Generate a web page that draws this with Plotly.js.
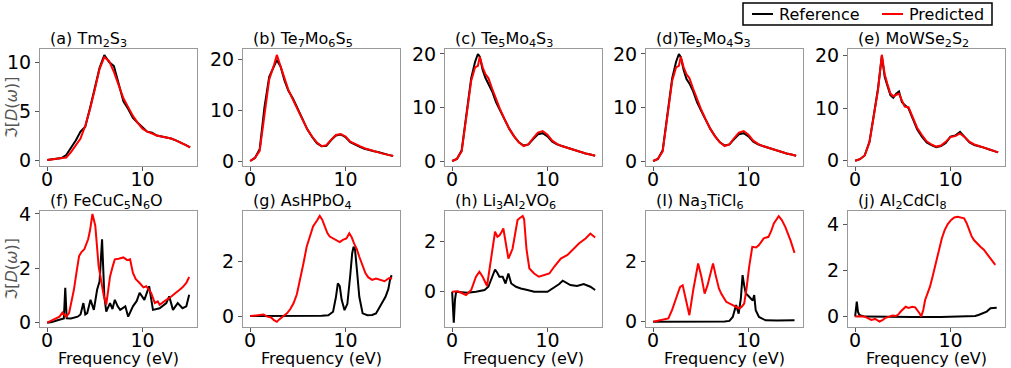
<!DOCTYPE html>
<html>
<head>
<meta charset="utf-8">
<script src="https://cdn.plot.ly/plotly-3.0.1.min.js"></script>
<style>
  html, body { margin: 0; padding: 0; background: #fff; }
  #chart { width: 1011px; height: 368px; }
</style>
</head>
<body>
<div id="chart"></div>
<script>
// (a) Tm2S3
const xA = [0,0.5,1,1.5,2,2.5,3,3.5,4,4.5,5,5.5,6,6.5,7,7.5,8,8.5,9,9.5,10,10.5,11,11.5,12,12.5,13,13.5,14,14.5,15];
const refA = [0,0.05,0.1,0.2,0.5,1.2,2.0,2.9,3.4,5.3,7.4,9.4,10.7,10.0,9.6,7.8,6.0,5.2,4.3,3.8,3.3,2.9,2.8,2.5,2.4,2.3,2.2,2.0,1.8,1.55,1.3];
const predA = [0,0.05,0.1,0.15,0.25,0.8,1.5,2.2,3.5,5.2,7.2,9.3,10.5,10.1,9.0,7.6,6.3,5.4,4.5,3.8,3.2,2.9,2.7,2.5,2.4,2.3,2.2,2.0,1.8,1.55,1.3];

// (b) Te7Mo6S5
const xB = [0,0.5,1,1.5,2,2.5,2.8,3.2,3.6,4,4.5,5,5.5,6,6.5,7,7.5,8,8.5,9,9.5,10,10.5,11,11.5,12,12.5,13,13.5,14,14.5,15];
const refB = [0,0.6,2.3,10.5,16.5,18.8,19.8,18.5,15.8,13.8,12.2,10.2,8.2,6.2,4.7,3.5,2.9,3.0,4.1,5.0,5.2,4.7,3.7,3.2,2.8,2.4,2.1,1.9,1.7,1.4,1.2,1.0];
const predB = [0,0.6,2.0,9.5,16,18.8,20.8,18.5,16,14,12,10,8,6.2,4.8,3.6,2.9,3.1,4.2,5.1,5.3,4.8,3.8,3.3,2.9,2.5,2.2,1.9,1.7,1.4,1.2,1.0];

// (c) Te5Mo4S3
const xC = [0,0.5,1,1.5,2,2.4,2.7,2.9,3.2,3.5,3.8,4.2,4.6,5,5.5,6,6.5,7,7.5,8,8.5,9,9.5,10,10.5,11,11.5,12,12.5,13,13.5,14,14.5,15];
const refC = [0,0.4,2.0,8.5,15.5,18.5,20.0,19.5,17.0,15.5,14.5,13.0,11.0,9.5,7.6,6.0,4.6,3.5,2.9,3.1,4.1,5.0,5.2,4.6,3.6,3.1,2.8,2.5,2.2,1.9,1.7,1.4,1.2,1.0];
const predC = [0,0.4,1.8,8.0,15.0,17.5,17.8,19.5,17.5,16.2,15.5,13.5,11.5,9.8,7.8,6.0,4.6,3.5,2.8,3.1,4.3,5.3,5.6,4.9,3.8,3.2,2.8,2.5,2.2,1.9,1.7,1.4,1.2,1.0];

// (d) Te5Mo4S3
const xD = [0,0.5,1,1.5,2,2.4,2.7,2.9,3.2,3.5,3.8,4.2,4.6,5,5.5,6,6.5,7,7.5,8,8.5,9,9.5,10,10.5,11,11.5,12,12.5,13,13.5,14,14.5,15];
const refD = [0,0.4,2.0,8.5,15.5,18.5,20.0,19.4,17.0,15.3,14.5,13.0,11.0,9.5,7.6,6.0,4.6,3.5,2.9,3.1,4.1,5.0,5.2,4.6,3.6,3.1,2.8,2.5,2.2,1.9,1.7,1.4,1.2,1.0];
const predD = [0,0.4,1.8,8.0,15.0,17.5,17.8,19.5,17.5,16.2,15.5,13.5,11.5,9.8,7.8,6.0,4.6,3.5,2.8,3.1,4.3,5.3,5.6,4.9,3.8,3.2,2.8,2.5,2.2,1.9,1.7,1.4,1.2,1.0];

// (e) MoWSe2S2
const xE = [0,0.5,1,1.5,2,2.4,2.8,3.1,3.4,3.7,4.0,4.3,4.6,4.9,5.2,5.6,6,6.5,7,7.5,8,8.5,9,9.5,10,10.5,11,11.5,12,12.5,13,13.5,14,14.5,15];
const refE = [0,0.3,1.0,3.6,9.2,13.8,20.0,16.0,14.2,12.5,12.0,12.8,13.2,11.2,10.6,10.0,8.2,6.0,4.6,3.5,3.0,2.6,2.8,3.4,4.6,4.8,5.5,4.4,3.5,3.0,2.8,2.5,2.2,1.9,1.6];
const predE = [0,0.3,1.0,3.5,9.0,13.5,20.2,16.5,14.5,12.8,12.3,12.5,12.8,11.5,10.3,10.2,8.4,6.3,4.9,3.7,3.1,2.7,2.9,3.6,4.5,4.7,5.2,4.5,3.6,3.1,2.8,2.5,2.2,1.9,1.6];

// (f) FeCuC5N6O
const xRefF = [0,0.5,1,1.5,1.75,1.9,2.05,2.5,3.2,3.5,3.8,4.0,4.2,4.55,4.9,5.24,5.5,5.76,6.0,6.2,6.6,6.85,7.1,7.4,7.66,8.2,8.5,9.0,9.4,9.7,10.2,10.7,11.1,11.8,12.5,12.8,13.2,13.7,14.2,14.6,14.9];
const refF = [0,0.02,0.08,0.12,0.15,1.28,0.16,0.15,0.22,0.3,0.72,0.3,0.35,0.84,0.47,1.21,1.52,3.07,0.97,0.41,0.72,0.5,0.84,0.6,0.47,0.6,0.22,0.6,0.8,1.1,0.84,1.34,0.47,0.53,0.72,0.97,0.47,0.72,0.53,0.6,1.03];
const xPredF = [0,0.5,1,1.3,1.6,2,2.3,2.8,3.1,3.35,3.6,3.9,4.3,4.5,4.75,5.05,5.4,5.7,5.95,6.2,6.4,6.6,6.9,7.1,7.5,8,8.4,8.7,9,9.3,9.7,10.1,10.4,10.9,11.3,11.6,11.8,12.1,12.5,12.8,13.2,13.5,13.9,14.2,14.6,14.9];
const predF = [0,0.08,0.15,0.22,0.37,0.22,0.35,1.2,1.9,2.45,2.6,2.7,3.07,3.4,4.0,3.57,2.08,1.4,0.97,0.66,1.1,1.7,2.1,2.33,2.35,2.4,2.3,2.33,1.83,1.6,1.46,1.3,1.34,1.1,0.72,0.78,0.66,0.75,0.84,0.9,1.03,1.1,1.21,1.3,1.46,1.68];

// (g) AsHPbO4
const xRefG = [0,2,4,6,7.5,8.2,8.7,9.0,9.2,9.4,9.6,9.9,10.2,10.5,10.7,10.85,11.0,11.2,11.45,11.8,12.3,12.8,13.2,13.5,13.9,14.2,14.5,14.7,14.85];
const refG = [0,0,0,0,0.01,0.03,0.16,0.7,1.2,1.1,0.6,0.22,0.45,1.5,2.3,2.55,2.45,1.7,0.71,0.1,0.03,0.04,0.1,0.28,0.5,0.71,1.0,1.39,1.5];
const xPredG = [0,0.5,0.93,1.4,1.8,2.2,2.5,2.8,3.05,3.3,3.6,3.86,4.2,4.55,4.9,5.24,5.6,5.93,6.3,6.6,7.0,7.3,7.55,7.83,8.1,8.35,8.7,9.03,9.4,9.72,10.1,10.4,10.65,10.9,11.2,11.45,11.8,12.1,12.4,12.8,13.2,13.7,14.1,14.55,14.9];
const predG = [0,0.02,0.04,0.06,-0.02,-0.05,-0.15,-0.21,-0.12,-0.05,0.02,0.1,0.25,0.47,0.8,1.33,1.95,2.55,2.95,3.29,3.5,3.68,3.55,3.29,3.05,2.92,2.85,2.8,2.72,2.8,2.85,3.04,2.9,2.67,2.45,2.18,1.85,1.57,1.42,1.33,1.38,1.33,1.28,1.39,1.38];

// (h) Li3Al2VO6
const xRefH = [0,0.1,0.17,0.3,0.42,1.0,1.6,2.5,3.4,3.8,4.1,4.3,4.5,4.75,4.95,5.3,5.6,5.9,6.2,6.7,7.2,7.9,8.6,10,10.4,10.7,11.2,11.6,12.0,12.4,13.1,13.8,14.5,15];
const refH = [0,-0.5,-1.24,-0.3,0,-0.02,-0.04,0,0.07,0.2,0.47,0.7,0.89,0.75,0.6,0.6,0.33,0.73,0.33,0.2,0.13,0.07,0,0,0.1,0.2,0.3,0.44,0.35,0.27,0.23,0.31,0.2,0.07];
const xPredH = [0,0.6,1.0,1.46,2.0,2.5,2.86,3.2,3.66,4.08,4.5,4.75,4.95,5.2,5.37,5.75,5.9,6.1,6.34,6.6,6.86,7.1,7.4,7.55,7.8,8.1,8.6,9.1,9.65,10.2,10.7,11.4,12.1,12.6,13.3,14.0,14.5,15];
const predH = [0,0.02,-0.05,-0.13,0.07,0.6,0.8,0.6,0.23,1.4,2.4,2.2,2.25,2.4,2.53,1.67,1.33,1.5,1.73,2.3,2.87,2.95,3.03,2.9,1.7,0.93,0.73,0.6,0.67,0.73,1.0,1.33,1.47,1.67,1.93,2.13,2.33,2.17];

// (I) Na3TiCl6
const xRefI = [0,2,4,6,7.5,8.0,8.35,8.7,8.97,9.2,9.38,9.55,9.72,10.0,10.24,10.45,10.6,10.76,11.1,11.8,13,14.83];
const refI = [0,0,0,0,0.01,0.03,0.16,0.55,0.27,0.77,1.54,1.2,0.93,0.85,0.77,0.7,0.88,0.38,0.16,0.05,0.04,0.05];
const xPredI = [0,0.5,0.93,1.3,1.6,2.0,2.3,2.6,2.83,3.1,3.45,3.8,4.2,4.5,4.72,5.07,5.4,5.7,5.93,6.28,6.6,6.9,7.14,7.66,8.35,9.03,9.3,9.55,9.8,10.07,10.4,10.8,11.1,11.6,12.1,12.4,12.66,13.17,13.5,13.86,14.4,14.83];
const predI = [0,0.03,0.05,0.08,0.11,0.4,0.71,0.95,1.15,1.2,0.71,0.22,1.04,1.6,1.92,1.48,0.93,1.2,1.48,1.92,1.48,1.1,0.93,0.66,0.55,0.44,0.5,0.6,1.1,1.81,2.47,2.45,2.53,2.75,2.8,3.0,3.24,3.48,3.35,3.13,2.69,2.27];

// (j) Al2CdCl8
const xRefJ = [0,0.08,0.17,0.3,0.44,1,3,6,9,12,12.6,13.0,13.3,13.8,14.2,14.7,14.85];
const refJ = [0,0.3,0.65,0.2,0.07,0.0,-0.02,-0.02,-0.02,0,0.03,0.08,0.14,0.22,0.36,0.39,0.38];
const xPredJ = [0,0.5,1.02,1.4,1.7,2.1,2.56,2.9,3.2,3.58,3.9,4.27,4.5,4.78,5.05,5.3,5.6,6.0,6.3,6.5,6.75,6.93,7.15,7.34,7.6,7.85,8.1,8.36,8.6,8.87,9.1,9.39,9.7,10.07,10.4,10.75,11.1,11.43,11.7,11.95,12.2,12.46,12.8,13.14,13.5,13.8,14.2,14.7];
const predJ = [0,0.02,0,-0.08,-0.14,-0.1,-0.22,-0.14,-0.05,0,0.05,0.03,0.08,0.22,0.35,0.43,0.38,0.43,0.4,0.29,0.15,0,0.3,0.72,1.0,1.3,1.7,2.17,2.6,3.03,3.4,3.75,4.0,4.19,4.3,4.33,4.3,4.26,4.05,3.75,3.5,3.32,3.15,3.03,2.9,2.74,2.55,2.24];

const titles = [
  '(a) Tm<sub>2</sub>S<sub>3</sub>',
  '(b) Te<sub>7</sub>Mo<sub>6</sub>S<sub>5</sub>',
  '(c) Te<sub>5</sub>Mo<sub>4</sub>S<sub>3</sub>',
  '(d)Te<sub>5</sub>Mo<sub>4</sub>S<sub>3</sub>',
  '(e) MoWSe<sub>2</sub>S<sub>2</sub>',
  '(f) FeCuC<sub>5</sub>N<sub>6</sub>O',
  '(g) AsHPbO<sub>4</sub>',
  '(h) Li<sub>3</sub>Al<sub>2</sub>VO<sub>6</sub>',
  '(I) Na<sub>3</sub>TiCl<sub>6</sub>',
  '(j) Al<sub>2</sub>CdCl<sub>8</sub>'
];

const panels = [
  {xr: xA, ref: refA, xp: xA, pred: predA, yr: [-0.61, 11.33], dt: 5},
  {xr: xB, ref: refB, xp: xB, pred: predB, yr: [-0.98, 21.96], dt: 10},
  {xr: xC, ref: refC, xp: xC, pred: predC, yr: [-0.93, 20.93], dt: 10},
  {xr: xD, ref: refD, xp: xD, pred: predD, yr: [-0.93, 20.93], dt: 10},
  {xr: xE, ref: refE, xp: xE, pred: predE, yr: [-1.0, 21.3], dt: 10},
  {xr: xRefF, ref: refF, xp: xPredF, pred: predF, yr: [-0.16, 4.11], dt: 2},
  {xr: xRefG, ref: refG, xp: xPredG, pred: predG, yr: [-0.40, 3.86], dt: 2},
  {xr: xRefH, ref: refH, xp: xPredH, pred: predH, yr: [-1.41, 3.23], dt: 2},
  {xr: xRefI, ref: refI, xp: xPredI, pred: predI, yr: [-0.17, 3.65], dt: 2},
  {xr: xRefJ, ref: refJ, xp: xPredJ, pred: predJ, yr: [-0.45, 4.58], dt: 2}
];

const W = 1011, H = 368;
const colLeft = [40, 243, 445, 646, 848];
const plotW = 157;
const rowTop = [49, 211], rowBot = [166, 327];
const FONT = 'DejaVu Sans, sans-serif';
const px = v => v / W;          // horizontal pixel -> paper
const py = v => 1 - v / H;      // vertical pixel (from top) -> paper

const traces = [];
const layout = {
  width: W, height: H,
  margin: {l: 0, r: 0, t: 0, b: 0},
  paper_bgcolor: 'white', plot_bgcolor: 'white',
  font: {family: FONT, size: 16, color: 'black'},
  showlegend: false,
  annotations: [],
  shapes: []
};

panels.forEach((p, i) => {
  const row = Math.floor(i / 5), col = i % 5;
  const n = i + 1;
  const xa = n === 1 ? 'x' : 'x' + n;
  const ya = n === 1 ? 'y' : 'y' + n;
  traces.push({
    x: p.xr, y: p.ref, xaxis: xa, yaxis: ya, type: 'scatter', mode: 'lines',
    name: 'Reference', line: {color: 'black', width: 2}
  });
  traces.push({
    x: p.xp, y: p.pred, xaxis: xa, yaxis: ya, type: 'scatter', mode: 'lines',
    name: 'Predicted', line: {color: '#ff0000', width: 2}
  });
  const x0 = px(colLeft[col]), x1 = px(colLeft[col] + plotW);
  const y0 = py(rowBot[row]), y1 = py(rowTop[row]);
  const axis = () => ({
    showline: true, mirror: true, linecolor: '#999', linewidth: 1,
    ticks: 'outside', ticklen: 4, tickcolor: '#555', tickwidth: 1,
    showgrid: false, zeroline: false, automargin: false,
    tickfont: {family: FONT, size: 19, color: 'black'}
  });
  layout['xaxis' + (n === 1 ? '' : n)] = Object.assign(axis(), {
    domain: [x0, x1], anchor: ya, range: [-0.75, 15.72], tick0: 0, dtick: 10,
    ticklabelstandoff: -8
  });
  layout['yaxis' + (n === 1 ? '' : n)] = Object.assign(axis(), {
    domain: [y0, y1], anchor: xa, range: p.yr, tick0: 0, dtick: p.dt
  });
  layout.annotations.push({
    text: titles[i], xref: 'paper', yref: 'paper',
    x: px(colLeft[col] + 8), xanchor: 'left',
    y: py(rowTop[row] + 3), yanchor: 'bottom', showarrow: false,
    font: {size: 16, color: 'black'}
  });
  if (row === 1) {
    layout.annotations.push({
      text: 'Frequency (eV)', xref: 'paper', yref: 'paper',
      x: (x0 + x1) / 2, xanchor: 'center', y: py(358), yanchor: 'middle',
      showarrow: false, font: {size: 16, color: 'black'}
    });
  }
  if (col === 0) {
    layout.annotations.push({
      text: '\u2111[<i>D</i>(<i>\u03c9</i>)]', xref: 'paper', yref: 'paper',
      x: px(11), xanchor: 'center', y: (y0 + y1) / 2, yanchor: 'middle',
      textangle: -90, showarrow: false, font: {size: 16, color: '#555'}
    });
  }
});

// legend box drawn by hand so its size matches
const legendItems = [
  {name: 'Reference', color: 'black', lineX: [752, 773], textX: 777},
  {name: 'Predicted', color: '#ff0000', lineX: [882, 903], textX: 907}
];
layout.shapes.push({
  type: 'rect', xref: 'paper', yref: 'paper',
  x0: px(743), x1: px(992), y0: py(25), y1: py(3),
  line: {color: 'black', width: 1.5}, fillcolor: 'white'
});
legendItems.forEach(it => {
  layout.shapes.push({
    type: 'line', xref: 'paper', yref: 'paper',
    x0: px(it.lineX[0]), x1: px(it.lineX[1]), y0: py(14), y1: py(14),
    line: {color: it.color, width: 2}
  });
  layout.annotations.push({
    text: it.name, xref: 'paper', yref: 'paper', x: px(it.textX), xanchor: 'left',
    y: py(14), yanchor: 'middle', showarrow: false, font: {size: 16, color: 'black'}
  });
});

Plotly.newPlot('chart', traces, layout, {displayModeBar: false, staticPlot: true});
</script>
</body>
</html>
